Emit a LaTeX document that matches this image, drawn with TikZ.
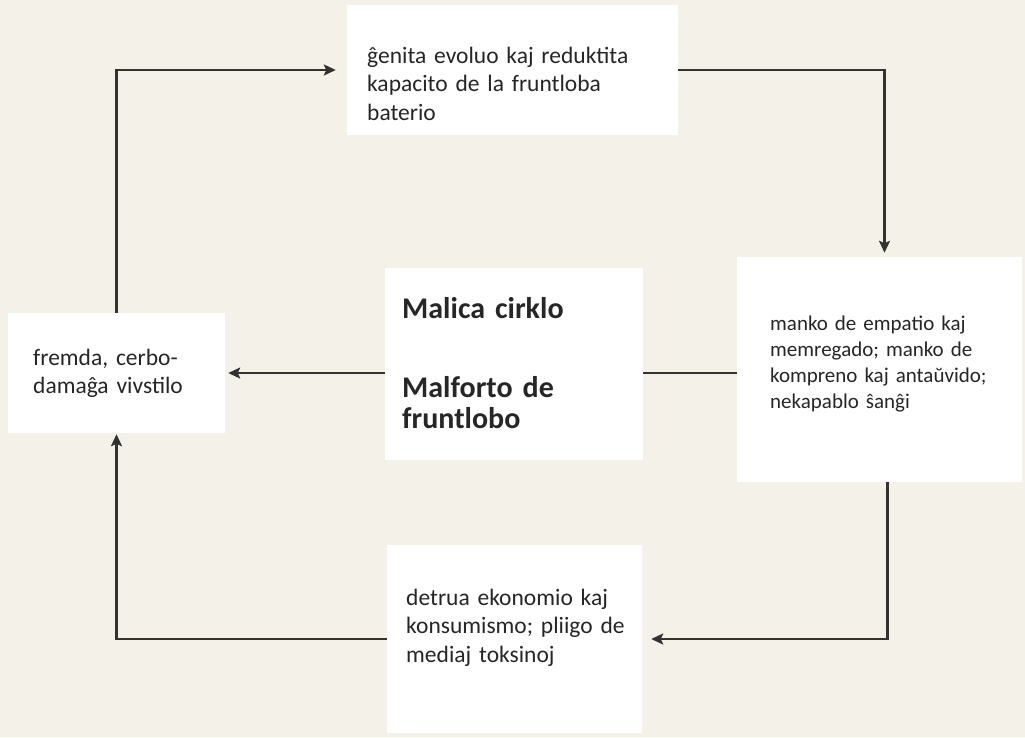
\documentclass[tikz,border=0pt]{standalone}
\usepackage{fontspec}
\setmainfont{Carlito}
\usetikzlibrary{arrows.meta}
\definecolor{paper}{RGB}{244,242,232}
\definecolor{ink}{RGB}{38,38,38}
\definecolor{arrowink}{RGB}{50,50,50}
\tikzset{
  box/.style={fill=white, draw=none, minimum width=#1, inner sep=0pt},
  txt/.style={anchor=base west, inner sep=0pt, align=left, text=ink, text width=#1,
    font=\fontsize{23.5}{28.5}\selectfont},
  txtsmall/.style={anchor=base west, inner sep=0pt, align=left, text=ink, text width=#1,
    font=\fontsize{21}{26}\selectfont},
  txtbold/.style={anchor=base west, inner sep=0pt, align=left, text=ink, text width=#1,
    font=\fontsize{30}{31}\selectfont\bfseries},
  conn/.style={draw=arrowink, line width=2.6pt,
    -{Stealth[length=12pt,width=11pt,inset=2.5pt]}},
}
\begin{document}
\begin{tikzpicture}[x=1pt,y=-1pt]
\fill[paper] (0,0) rectangle (1025,737);
\useasboundingbox (0,0) rectangle (1025,737);

% boxes
\node[box=331pt, minimum height=130pt] (T) at (512.5,70) {};
\node[box=285pt, minimum height=225pt] (R) at (879.5,369.5) {};
\node[box=217pt, minimum height=120pt] (L) at (116.5,373) {};
\node[box=255pt, minimum height=188pt] (B) at (514.5,639) {};

% connectors
\draw[conn, shorten >=11pt] (L.north) |- (T.west);
\draw[conn, shorten >=4pt] (T.east) -| ([xshift=5pt]R.north);
\draw[conn, shorten >=9pt] ([xshift=8pt]R.south) |- (B.east);
\draw[conn, shorten >=1pt] (B.west) -| (L.south);
\draw[conn, shorten >=3pt] (R.west |- L.east) -- (L.east);

% centre box drawn over the horizontal arrow
\node[box=258pt, minimum height=192pt] (C) at (514,364) {};

% texts
\node[txt=320pt] (Tt) at (367,63) {ĝenita evoluo kaj reduktita\\kapacito de la fruntloba\\baterio};
\node[txtsmall=250pt] (Rt) at (770,330) {manko de empatio kaj\\memregado; manko de\\kompreno kaj antaŭvido;\\nekapablo ŝanĝi};
\node[txt=190pt] (Lt) at (33,365) {fremda, cerbo-\\damaĝa vivstilo};
\node[txt=240pt] (Bt) at (406,605) {detrua ekonomio kaj\\konsumismo; pliigo de\\mediaj toksinoj};
\node[txtbold=240pt] (Ct) at (402,318) {Malica cirklo\\[48pt]Malforto de\\fruntlobo};
\end{tikzpicture}
\end{document}
